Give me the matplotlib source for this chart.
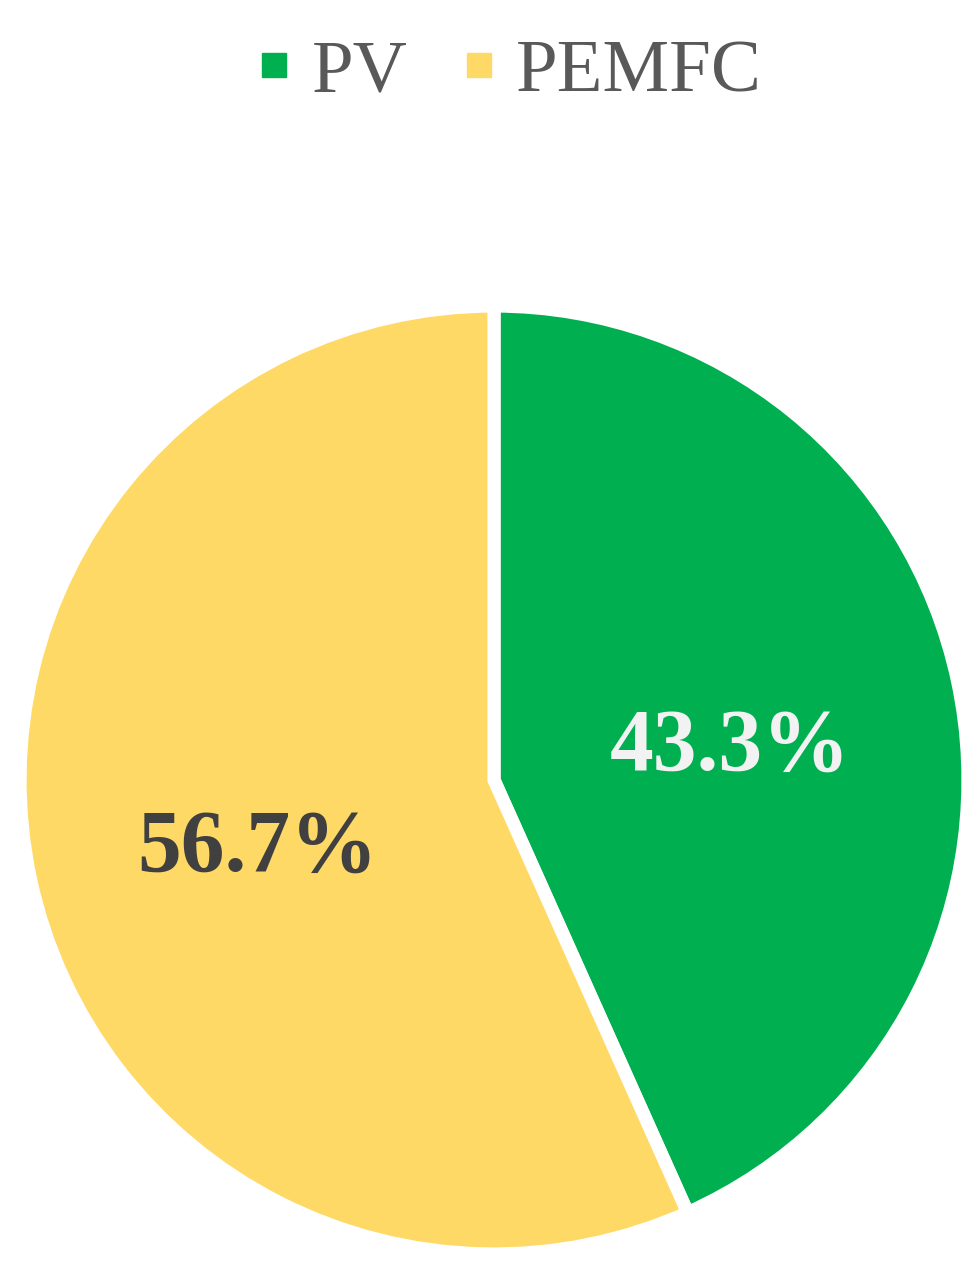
import matplotlib.pyplot as plt
from matplotlib.lines import Line2D

# data
labels = ['PV', 'PEMFC']
shares = [43.3, 56.7]
colors = ['#00B050', '#FFD966']
pct_colors = ['#F2F2F2', '#404040']

plt.rcParams['font.family'] = ['Liberation Serif', 'DejaVu Serif']

fig = plt.figure(figsize=(9.8, 12.79), dpi=100)
W, H = 980, 1279
cx, cy, r = 494, 780, 474
ax = fig.add_axes([(cx - r) / W, (H - cy - r) / H, 2 * r / W, 2 * r / H])

wedges, texts, autotexts = ax.pie(
    shares, colors=colors, startangle=90, counterclock=False,
    autopct='%.1f%%', pctdistance=0.51, radius=1,
    wedgeprops=dict(edgecolor='white', linewidth=9.5),
    textprops=dict(fontsize=63, fontweight='bold'))
for t, c in zip(autotexts, pct_colors):
    t.set_color(c)
    x, y = t.get_position()
    t.set_position((x, y - 0.04))
ax.set_xlim(-1, 1)
ax.set_ylim(-1, 1)
ax.set_aspect('equal')
ax.axis('off')

handles = [Line2D([], [], marker='s', linestyle='none', markersize=17,
                  markerfacecolor=c, markeredgecolor=c) for c in colors]
leg = fig.legend(handles, labels, loc='center', bbox_to_anchor=(0.517, 1 - 73 / H),
                 ncol=2, frameon=False, fontsize=54, handletextpad=0.2,
                 columnspacing=0.65, handlelength=0.6)
for t in leg.get_texts():
    t.set_color('#595959')

fig.savefig('out.png', dpi=100)
